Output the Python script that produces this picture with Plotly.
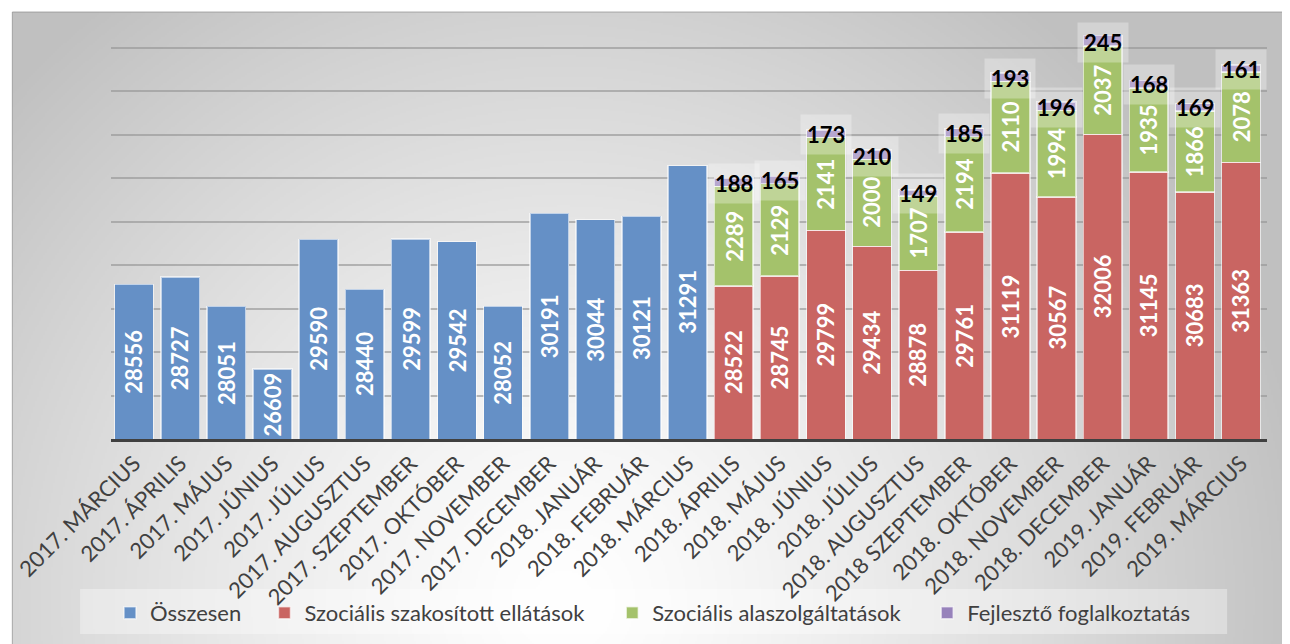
import zlib, struct, base64
import numpy as np
import plotly.graph_objects as go

categories = ["2017. MÁRCIUS", "2017. ÁPRILIS", "2017. MÁJUS", "2017. JÚNIUS", "2017. JÚLIUS",
              "2017. AUGUSZTUS", "2017. SZEPTEMBER", "2017. OKTÓBER", "2017. NOVEMBER",
              "2017. DECEMBER", "2018. JANUÁR", "2018. FEBRUÁR", "2018. MÁRCIUS",
              "2018. ÁPRILIS", "2018. MÁJUS", "2018. JÚNIUS", "2018. JÚLIUS", "2018. AUGUSZTUS",
              "2018 SZEPTEMBER", "2018. OKTÓBER", "2018. NOVEMBER", "2018. DECEMBER",
              "2019. JANUÁR", "2019. FEBRUÁR", "2019. MÁRCIUS"]

osszesen_cats = categories[:13]
osszesen = [28556, 28727, 28051, 26609, 29590, 28440, 29599, 29542, 28052, 30191, 30044, 30121, 31291]

split_cats = categories[13:]
szakositott = [28522, 28745, 29799, 29434, 28878, 29761, 31119, 30567, 32006, 31145, 30683, 31363]
alapszolg = [2289, 2129, 2141, 2000, 1707, 2194, 2110, 1994, 2037, 1935, 1866, 2078]
fejleszto = [188, 165, 173, 210, 149, 185, 193, 196, 245, 168, 169, 161]

series_names = ["Összesen", "Szociális szakosított ellátások", "Szociális alaszolgáltatások",
                "Fejlesztő foglalkoztatás"]
series_colors = ["#6590c6", "#c96562", "#a4c26b", "#9782bb"]

# ---- layout geometry (figure pixels; page has 8px body margin) ----
OFF = 8
W, H = 1290, 644
ML, MR, MT, MB = 99, 31, 5, 213
PW, PH = W - ML - MR, H - MT - MB
YMIN, YMAX = 25000, 34800


def px2x(px):  # page px -> paper x
    return (px - OFF - ML) / PW


def py2y(py):  # page px -> paper y
    return (H - MB - (py - OFF)) / PH


# ---- gradient background image ----
def make_png(arr):
    h, w = arr.shape
    raw = b"".join(b"\x00" + arr[i].tobytes() for i in range(h))

    def chunk(t, d):
        return struct.pack(">I", len(d)) + t + d + struct.pack(">I", zlib.crc32(t + d) & 0xffffffff)

    return (b"\x89PNG\r\n\x1a\n" + chunk(b"IHDR", struct.pack(">IIBBBBB", w, h, 8, 0, 0, 0, 0))
            + chunk(b"IDAT", zlib.compress(raw, 9)) + chunk(b"IEND", b""))


fx0, fy0 = 8, 12          # page coords of frame top-left
fx1, fy1 = 1300, 654
fw, fh = fx1 - fx0, fy1 - fy0
sc = 2
gw, gh = fw // sc, fh // sc
xs = (np.arange(gw) * sc + fx0)[None, :]
ys = (np.arange(gh) * sc + fy0)[:, None]
d = np.sqrt((xs - 560.0) ** 2 + (ys - 600.0) ** 2) / 760.0
d = np.clip(d, 0, 1) ** 1.3
img = (255 - (255 - 192) * d).astype(np.uint8)
src = "data:image/png;base64," + base64.b64encode(make_png(img)).decode()

FONT = "Lato"
LBL = 22
line = dict(color="rgba(255,255,255,0.6)", width=1.5)
fig = go.Figure()

fig.add_trace(go.Bar(x=osszesen_cats, y=osszesen, name=series_names[0], legend="legend",
                     marker=dict(color=series_colors[0], line=line), textposition="none"))
fig.add_trace(go.Bar(x=split_cats, y=szakositott, name=series_names[1], legend="legend2",
                     marker=dict(color=series_colors[1], line=line), textposition="none"))
fig.add_trace(go.Bar(x=split_cats, y=alapszolg, name=series_names[2], legend="legend3",
                     marker=dict(color=series_colors[2], line=line), textposition="none"))
fig.add_trace(go.Bar(x=split_cats, y=fejleszto, name=series_names[3], legend="legend4",
                     marker=dict(color=series_colors[3], line=line), textposition="none"))

wfont = dict(family=FONT, size=LBL, color="white", weight="bold")
annotations = []
for c, v in zip(osszesen_cats, osszesen):
    annotations.append(dict(x=c, y=(YMIN + v) / 2, text=str(v), textangle=-90,
                            showarrow=False, font=wfont))
for c, r, g, p in zip(split_cats, szakositott, alapszolg, fejleszto):
    annotations.append(dict(x=c, y=(YMIN + r) / 2, text=str(r), textangle=-90,
                            showarrow=False, font=wfont))
    annotations.append(dict(x=c, y=r + g / 2, text=str(g), textangle=-90,
                            showarrow=False, font=wfont))
    annotations.append(dict(
        x=c, y=r + g, text=str(p), showarrow=False, yanchor="middle", yshift=3,
        font=dict(family=FONT, size=LBL, color="black", weight="bold"),
        bgcolor="rgba(255,255,255,0.3)", borderpad=6,
    ))

shapes = [
    dict(type="rect", xref="paper", yref="paper", x0=px2x(fx0), x1=px2x(fx1),
         y0=py2y(fy1), y1=py2y(fy0), line=dict(color="rgba(140,140,140,0.7)", width=1),
         fillcolor="rgba(0,0,0,0)", layer="below"),
    dict(type="rect", xref="paper", yref="paper", x0=px2x(76), x1=px2x(1227),
         y0=py2y(634), y1=py2y(589), line=dict(width=0),
         fillcolor="rgba(255,255,255,0.35)", layer="below"),
]


def leg(px):
    return dict(orientation="h", x=px2x(px), y=py2y(613), xanchor="left", yanchor="middle",
                bgcolor="rgba(0,0,0,0)", font=dict(family=FONT, size=LBL, color="#404040"),
                itemwidth=30)


fig.update_layout(
    width=W, height=H,
    margin=dict(l=ML, r=MR, t=MT, b=MB, pad=0),
    paper_bgcolor="white", plot_bgcolor="rgba(0,0,0,0)",
    barmode="stack", bargap=0.16,
    font=dict(family=FONT, color="#404040"),
    showlegend=True,
    legend=leg(106), legend2=leg(261), legend3=leg(610), legend4=leg(926),
    images=[dict(source=src, xref="paper", yref="paper", x=px2x(fx0), y=py2y(fy0),
                 sizex=fw / PW, sizey=fh / PH, xanchor="left", yanchor="top",
                 sizing="stretch", layer="below")],
    shapes=shapes,
    annotations=annotations,
    xaxis=dict(categoryorder="array", categoryarray=categories, tickangle=-45,
               tickfont=dict(family=FONT, size=LBL, color="#404040"),
               showline=True, linecolor="#404040", linewidth=3, ticks="", showgrid=False),
    yaxis=dict(range=[YMIN, YMAX], dtick=1000, tick0=0, showticklabels=False,
               showgrid=True, gridcolor="rgba(150,150,150,0.65)", gridwidth=1.5,
               zeroline=False, ticks=""),
)

fig.write_html("out.html")
